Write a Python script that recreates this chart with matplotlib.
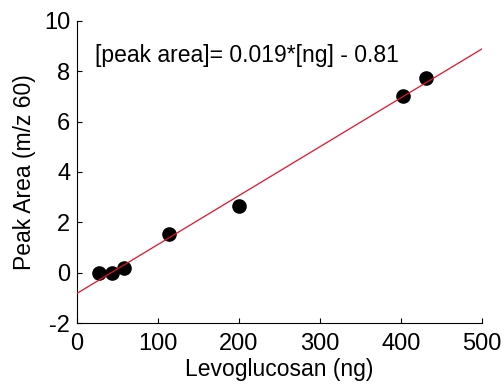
import matplotlib
matplotlib.use("Agg")
import matplotlib.pyplot as plt
import numpy as np

plt.rcParams['font.family'] = ['Liberation Sans', 'DejaVu Sans']
plt.rcParams['axes.unicode_minus'] = False

ng = [27.5, 43, 57.5, 114, 200.5, 402.5, 431.5]
peak_area = [0.0, 0.0, 0.18, 1.55, 2.63, 7.02, 7.73]
slope = 0.0194
intercept = -0.82
fit_x = [0, 500]

fig = plt.figure(figsize=(5.04, 3.85), dpi=100)
ax = fig.add_axes([0.153, 0.161, 0.803, 0.785])

ax.plot(ng, peak_area, 'o', color='black', markersize=9.5, zorder=2)
fx = np.array(fit_x, dtype=float)
ax.plot(fx, slope * fx + intercept, color='#e8102a', linewidth=0.9, zorder=3)

ax.set_xlim(0, 500)
ax.set_ylim(-2, 10)
ax.set_xticks([0, 100, 200, 300, 400, 500])
ax.set_yticks([-2, 0, 2, 4, 6, 8, 10])
ax.tick_params(direction='in', length=3.5, width=0.8, labelsize=17)
ax.tick_params(axis='x', pad=7)
ax.tick_params(axis='y', pad=5)
ax.spines['top'].set_visible(False)
ax.spines['right'].set_visible(False)
ax.set_xlabel('Levoglucosan (ng)', fontsize=16.5, labelpad=2)
ax.set_ylabel('Peak Area (m/z 60)', fontsize=16.5, labelpad=6)
ax.text(0.043, 0.885, '[peak area]= 0.019*[ng] - 0.81', transform=ax.transAxes,
        fontsize=16.5, ha='left', va='center')

fig.savefig('out.png', dpi=100)
